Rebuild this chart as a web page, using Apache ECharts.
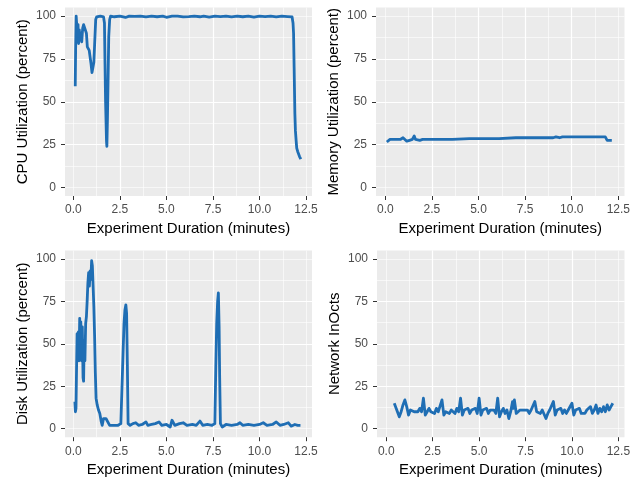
<!DOCTYPE html>
<html>
<head>
<meta charset="utf-8">
<script src="https://cdn.jsdelivr.net/npm/echarts@6/dist/echarts.min.js"></script>
<style>
  html, body { margin: 0; padding: 0; background: #fff; }
  #chart { width: 641px; height: 479px; }
</style>
</head>
<body>
<div id="chart"></div>
<script>
// 数据（分钟, 数值）
var cpuTime = [0.10,0.12,0.15,0.18,0.22,0.25,0.28,0.32,0.36,0.40,0.45,0.50,0.55,0.60,0.65,0.70,0.75,0.80,0.85,0.90,0.95,1.00,1.05,1.10,1.15,1.20,1.25,1.35,1.45,1.55,1.62,1.67,1.70,1.73,1.78,1.80,1.83,1.86,1.90,1.95,2.00,2.2,2.5,2.8,3.0,3.3,3.6,3.9,4.2,4.5,4.8,5.0,5.3,5.6,5.9,6.2,6.5,6.8,7.0,7.3,7.6,7.9,8.2,8.5,8.8,9.1,9.4,9.7,10.0,10.3,10.6,10.9,11.2,11.5,11.75,11.80,11.83,11.86,11.90,11.93,11.97,12.00,12.05,12.10,12.15,12.22];
var cpuValues = [59,80,100,99,88,95,84,92,86,90,85,93,95,95,94,90,82,81,80,79,72,67,70,73,72,98,99.5,100,100,100,99.5,96,72,50,27,24,40,60,88,98,100,99.6,100,99.2,100,99.8,100,99.5,100,99.6,100,99.3,100,100,99.5,99.7,100,99.6,100,99.4,100,99.7,100,99.5,100,99.6,100,99.4,100,99.7,100,99.5,100,99.7,99.5,96,90,70,43,33,27,23,21,20,18,16.5];

var memTime = [0.08,0.15,0.25,0.5,0.8,0.95,1.05,1.15,1.3,1.45,1.55,1.62,1.7,1.85,2.0,2.5,3.0,3.6,3.7,4.5,5.5,6.1,6.2,7.0,8.0,9.0,9.15,9.35,9.5,10.5,11.5,11.8,11.9,12.15];
var memValues = [26.5,27.5,28,28,28,29,28.5,27,27.5,28,30,28,27,27.5,28,28,28,28,28.5,28.5,28.5,28.5,29,29,29,29,29.5,29,29.5,29.5,29.5,29.5,27.5,27.5];

var diskTime = [0.08,0.11,0.14,0.17,0.20,0.23,0.27,0.30,0.34,0.37,0.40,0.44,0.48,0.52,0.55,0.58,0.62,0.66,0.70,0.74,0.78,0.82,0.86,0.90,0.94,0.98,1.02,1.06,1.10,1.14,1.18,1.22,1.28,1.35,1.42,1.50,1.55,1.62,1.75,1.85,1.95,2.05,2.15,2.25,2.4,2.55,2.62,2.67,2.72,2.77,2.82,2.86,2.90,2.94,3.05,3.2,3.35,3.5,3.7,3.9,4.0,4.2,4.4,4.6,4.75,5.0,5.2,5.3,5.45,5.7,5.9,6.1,6.4,6.6,6.8,6.95,7.2,7.45,7.6,7.65,7.70,7.75,7.79,7.83,7.86,7.90,8.0,8.2,8.5,8.8,8.95,9.1,9.4,9.7,10.0,10.2,10.4,10.7,10.9,11.1,11.3,11.55,11.7,11.9,12.05,12.2];
var diskValues = [16,10,12,35,56,42,57,40,65,43,63,40,60,30,28,52,40,62,66,75,86,92,84,93,88,99,96,84,72,55,33,18,14,11,9,4,2,6,6,6,2,3,2,3,2,3,3,45,62,70,73,68,38,3,2,3,3.5,2,2.5,4,2,2.5,3,4,2,2.5,1,5,2,3,3.5,2,2.5,2,4.5,2,2.5,2,3,35,62,75,80,60,30,3,1,2.5,2,2.5,3.5,2,2.5,2,2.5,3.5,2,2.5,4,2,2.5,3.5,1.5,2.5,2,2];

var netTime = [0.43,0.5,0.6,0.7,0.8,0.9,1.0,1.1,1.2,1.3,1.4,1.5,1.6,1.7,1.8,1.9,2.0,2.1,2.2,2.3,2.4,2.5,2.6,2.7,2.8,2.9,3.0,3.1,3.2,3.3,3.4,3.5,3.6,3.7,3.8,3.9,4.0,4.1,4.2,4.3,4.4,4.5,4.6,4.7,4.8,4.9,5.0,5.1,5.2,5.3,5.4,5.5,5.6,5.7,5.8,5.9,6.0,6.1,6.2,6.3,6.4,6.5,6.6,6.7,6.8,6.85,6.9,7.0,7.1,7.2,7.3,7.4,7.5,7.6,7.7,7.8,7.9,8.0,8.1,8.2,8.3,8.4,8.5,8.6,8.7,8.8,8.9,9.0,9.1,9.2,9.3,9.4,9.5,9.6,9.7,9.8,9.9,10.0,10.1,10.2,10.3,10.4,10.5,10.6,10.7,10.8,10.9,11.0,11.1,11.2,11.3,11.4,11.5,11.6,11.7,11.8,11.9,12.0,12.1,12.2];
var netValues = [15,13,10,7,10,14,17,13,8,11,11,10,11,10,12,10,18,8,10,12,10,11,9,12,10,11,17,8,10,11,9,11,10,9,12,10,18,8,11,10,12,9,11,10,12,9,18,8,11,10,12,9,11,10,11,9,18,7,10,12,9,11,6,10,16,12,17,9,8,11,10,11,10,11,9,11,10,16,10,11,9,11,10,6,9,11,10,16,8,11,10,12,9,11,9,11,10,15,8,11,10,12,9,10,9,11,10,13,9,11,14,9,12,10,13,10,14,11,13,15];

var xTicks = [0, 2.5, 5, 7.5, 10, 12.5];
var yTicks = [0, 25, 50, 75, 100];

var lineColor = '#1f6eb4';
var fontFam = 'Liberation Sans, Arial, sans-serif';

function pairs(t, v) {
    var out = [];
    for (var i = 0; i < t.length; i++) out.push([t[i], v[i]]);
    return out;
}

// 每个面板：位置、x 范围、y 轴名称
var panels = [
    { rect: [65, 7.5, 247, 188.5], xr: [-0.45, 12.82], name: 'CPU Utilization (percent)', data: pairs(cpuTime, cpuValues) },
    { rect: [376, 7.5, 248.5, 188.5], xr: [-0.5, 12.83], name: 'Memory Utilization (percent)', data: pairs(memTime, memValues) },
    { rect: [65, 250.5, 247, 186.7], xr: [-0.45, 12.82], name: 'Disk Utilization (percent)', data: pairs(diskTime, diskValues) },
    { rect: [377, 250.5, 247.5, 186.7], xr: [-0.5, 12.83], name: 'Network InOcts', data: pairs(netTime, netValues) }
];

var grid = [], xAxis = [], yAxis = [], series = [];

panels.forEach(function (p, i) {
    grid.push({
        left: p.rect[0], top: p.rect[1], width: p.rect[2], height: p.rect[3],
        show: true, backgroundColor: '#EBEBEB', borderWidth: 0
    });
    // 主轴
    xAxis.push({
        type: 'value', gridIndex: i, min: p.xr[0], max: p.xr[1],
        minInterval: 2.5, maxInterval: 2.5,
        name: 'Experiment Duration (minutes)', nameLocation: 'middle', nameGap: 25,
        nameTextStyle: { color: '#000', fontSize: 15, fontFamily: fontFam },
        axisLine: { show: false, onZero: false },
        axisTick: { show: true, length: 4, lineStyle: { color: '#333' }, customValues: xTicks },
        axisLabel: { color: '#4D4D4D', fontSize: 12, margin: 8, fontFamily: fontFam,
            customValues: xTicks, formatter: function (v) { return v.toFixed(1); } },
        splitLine: { show: true, showMinLine: false, showMaxLine: false, lineStyle: { color: '#fff', width: 1.2 } }
    });
    yAxis.push({
        type: 'value', gridIndex: i, min: -5, max: 105,
        minInterval: 25, maxInterval: 25,
        name: p.name, nameLocation: 'middle', nameGap: 35,
        nameTextStyle: { color: '#000', fontSize: 15, fontFamily: fontFam },
        axisLine: { show: false, onZero: false },
        axisTick: { show: true, length: 4, lineStyle: { color: '#333' }, customValues: yTicks },
        axisLabel: { color: '#4D4D4D', fontSize: 12, margin: 9, fontFamily: fontFam, customValues: yTicks },
        splitLine: { show: true, showMinLine: false, showMaxLine: false, lineStyle: { color: '#fff', width: 1.2 } }
    });
    // 次网格线
    xAxis.push({
        type: 'value', gridIndex: i, min: p.xr[0], max: p.xr[1],
        minInterval: 1.25, maxInterval: 1.25,
        axisLine: { show: false, onZero: false }, axisTick: { show: false }, axisLabel: { show: false },
        splitLine: { show: true, showMinLine: false, showMaxLine: false, lineStyle: { color: '#fff', width: 0.6 } }
    });
    yAxis.push({
        type: 'value', gridIndex: i, min: -5, max: 105,
        minInterval: 12.5, maxInterval: 12.5,
        axisLine: { show: false, onZero: false }, axisTick: { show: false }, axisLabel: { show: false },
        splitLine: { show: true, showMinLine: false, showMaxLine: false, lineStyle: { color: '#fff', width: 0.6 } }
    });
    series.push({
        type: 'line', xAxisIndex: i * 2, yAxisIndex: i * 2,
        data: p.data, showSymbol: false, z: 5,
        lineStyle: { color: lineColor, width: 2.8, join: 'round' }
    });
});

var myChart = echarts.init(document.getElementById('chart'));
myChart.setOption({
    animation: false,
    textStyle: { fontFamily: fontFam },
    grid: grid,
    xAxis: xAxis,
    yAxis: yAxis,
    series: series
});
</script>
</body>
</html>
